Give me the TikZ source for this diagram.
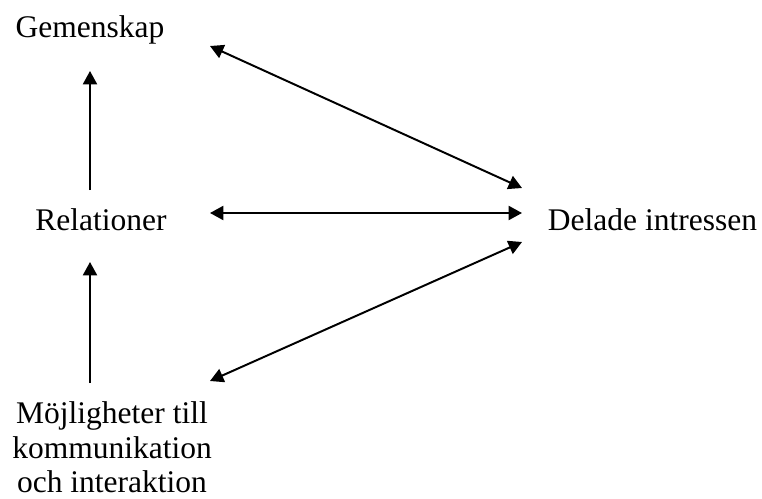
\documentclass[tikz,border=0pt]{standalone}
\usepackage{fontspec}
\setmainfont{Liberation Serif}
\usetikzlibrary{arrows.meta}

\begin{document}
\begin{tikzpicture}[
    x=0.025cm, y=-0.025cm, line width=1.4pt,
    lbl/.style={inner sep=0pt,align=center,font={\fontsize{22.4}{24.5}\selectfont}},
    arrow/.style={-{Triangle[length=9.5pt,width=10pt]}},
    both/.style={{Triangle[length=9.5pt,width=10pt]}-{Triangle[length=9.5pt,width=10pt]}}
]
\useasboundingbox (0,0) rectangle (762,499);

\node[lbl,anchor=base] (gem) at (90,38) {Gemenskap};
\node[lbl,anchor=base] (rel) at (101,230) {Relationer};
\node[lbl,anchor=base] (del) at (652.5,230) {Delade intressen};
\node[lbl,anchor=north] (moj) at (112,401) {Möjligheter till\\kommunikation\\och interaktion};

% upward chain on the left
\draw[arrow] ([shift={(-11,-40)}]rel.base) -- ([shift={(0,33)}]gem.base);
\draw[arrow] ([shift={(-22,-18)}]moj.north) -- ([shift={(-11,32)}]rel.base);
% links to the shared interests
\draw[both] ([shift={(120,8)}]gem.base) -- ([shift={(-130.5,-42)}]del.base);
\draw[both] ([shift={(109,-17)}]rel.base) -- ([shift={(-130.5,-17)}]del.base);
\draw[both] ([shift={(98,-20)}]moj.north) -- ([shift={(-130.5,12)}]del.base);
\end{tikzpicture}
\end{document}
